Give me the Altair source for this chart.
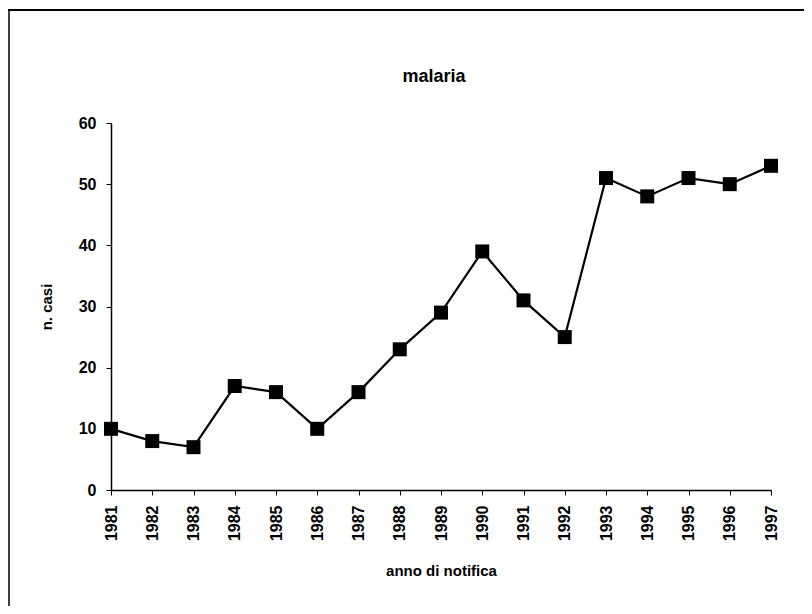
import altair as alt
import pandas as pd

years = [1981, 1982, 1983, 1984, 1985, 1986, 1987, 1988, 1989,
         1990, 1991, 1992, 1993, 1994, 1995, 1996, 1997]
cases = [10, 8, 7, 17, 16, 10, 16, 23, 29, 39, 31, 25, 51, 48, 51, 50, 53]
y_ticks = [0, 10, 20, 30, 40, 50, 60]
chart_title = "malaria"

df = pd.DataFrame({"anno": years, "casi": cases})
FONT = "Liberation Sans"

base = alt.Chart(df).encode(
    x=alt.X("anno:Q", scale=alt.Scale(domain=[1981, 1997], nice=False, zero=False),
            axis=alt.Axis(values=years, format="d", labelAngle=-90, labelAlign="right",
                          labelBaseline="middle", title="anno di notifica",
                          titlePadding=23, labelPadding=10)),
    y=alt.Y("casi:Q", scale=alt.Scale(domain=[0, 60], nice=False),
            axis=alt.Axis(values=y_ticks, title="n. casi", titlePadding=24, labelPadding=10)),
)

line = base.mark_line(color="black", strokeWidth=2.2)
pts = base.mark_square(color="black", size=196, opacity=1, filled=True)

frame = pd.DataFrame({"t": [chart_title]})
top_line = alt.Chart(frame).mark_rule(color="black", strokeWidth=2, clip=False).encode(
    x=alt.value(-103), x2=alt.value(693), y=alt.value(-113))
left_line = alt.Chart(frame).mark_rule(color="black", strokeWidth=1.5, clip=False).encode(
    x=alt.value(-102), y=alt.value(-113), y2=alt.value(500))
title = alt.Chart(frame).mark_text(font=FONT, fontSize=18, fontWeight="bold", color="black",
                                   baseline="alphabetic", align="center").encode(
    x=alt.value(323), y=alt.value(-41), text="t:N")

chart = alt.layer(top_line, left_line, title, line, pts).properties(
    width=660, height=367,
    autosize=alt.AutoSizeParams(type="none"),
    padding={"left": 103, "top": 115, "right": 33, "bottom": 116},
).configure_view(stroke=None).configure_axis(
    domainColor="black", domainWidth=1.5, tickColor="black", tickSize=5, grid=False,
    labelFont=FONT, labelFontSize=16, labelFontWeight="bold", labelColor="black",
    titleFont=FONT, titleFontSize=15, titleFontWeight="bold", titleColor="black",
)

chart.save("out.html", embed_options={"renderer": "svg", "actions": False})
